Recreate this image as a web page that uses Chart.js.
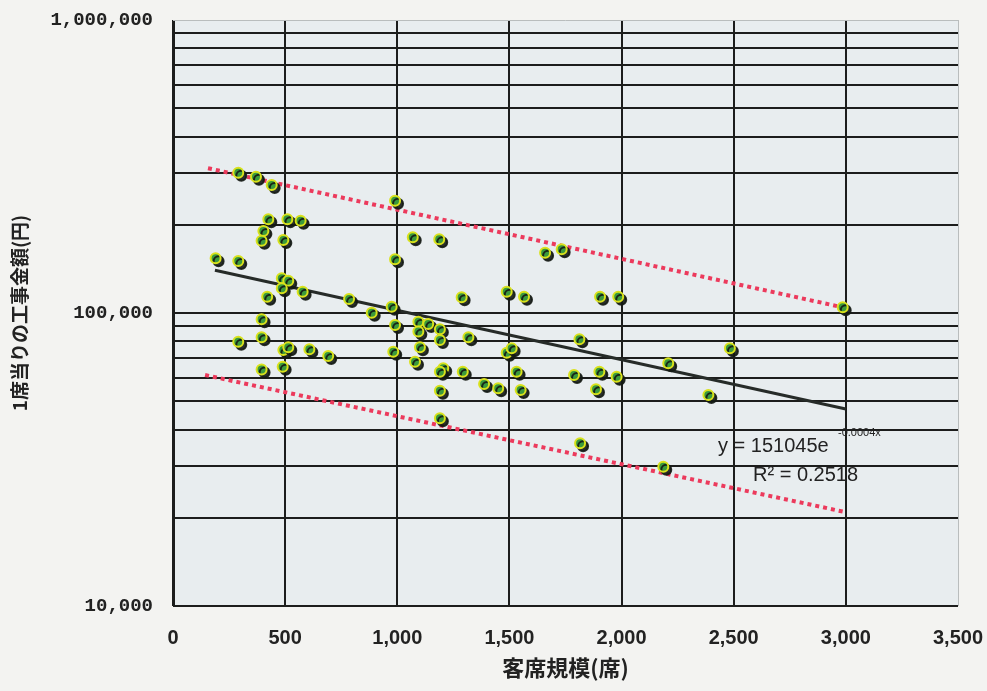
<!DOCTYPE html>
<html>
<head>
<meta charset="utf-8">
<script src="https://cdn.jsdelivr.net/npm/chart.js@4"></script>
<style>
  html, body { margin: 0; padding: 0; background: #f3f3f1; }
  #wrap { width: 987px; height: 691px; }
</style>
</head>
<body>
<div id="wrap"><canvas id="chart" width="987" height="691"></canvas></div>
<script>
// 客席規模(席) and 1席当りの工事金額(円)
const seats = [
  291, 370, 440, 425, 510, 569, 403, 395, 492, 190,
  291, 485, 514, 485, 578, 420, 395, 395, 291, 492,
  514, 608, 395, 489, 692, 785, 990, 1069, 1187, 990,
  1659, 1733, 1287, 1488, 1565, 1904, 1985, 975, 886, 990,
  1094, 1138, 1190, 1094, 1190, 1317, 1101, 982, 1488, 1510,
  1812, 1079, 1205, 1190, 1292, 1532, 1788, 1901, 1978, 1387,
  1450, 1190, 1550, 1886, 1190, 2208, 2986, 2483, 2387, 1815,
  2186
];
const costPerSeat = [
  301000, 292000, 273400, 208800, 208800, 206500, 190500, 176500, 177500, 153700,
  150500, 131300, 128900, 121400, 118200, 113700, 95200, 82600, 79800, 74800,
  76400, 75200, 64200, 65600, 71300, 111600, 241700, 181300, 178400, 152500,
  160600, 165000, 113100, 118200, 113700, 113700, 113700, 105100, 100200, 91000,
  93400, 91700, 88000, 86400, 80900, 82600, 76400, 73800, 73200, 75800,
  81300, 68200, 64760, 63050, 63050, 63050, 61430, 63050, 60620, 57240,
  55330, 54290, 54590, 54890, 43710, 67330, 104600, 75800, 52490, 35930,
  29880
];

// fitted line and the two dotted bands (end points)
const trendX = [187, 3000];
const trendY = [140000, 47000];
const upperX = [156, 3000];
const upperY = [312000, 104000];
const lowerX = [143, 3000];
const lowerY = [61400, 20900];

const xTicks = [0, 500, 1000, 1500, 2000, 2500, 3000, 3500];
const yGrid = [10000, 20000, 30000, 40000, 50000, 60000, 70000, 80000, 90000,
  100000, 200000, 300000, 400000, 500000, 600000, 700000, 800000, 900000, 1000000];
const yLabels = [10000, 100000, 1000000];

const toXY = (xs, ys) => xs.map((x, i) => ({ x: x, y: ys[i] }));
const fmt = v => v.toLocaleString("en-US");

const sans = "'Liberation Sans', Arial, sans-serif";
const cjk = "'Noto Sans CJK JP', 'Noto Sans CJK SC', sans-serif";

const paper = {
  id: "paper",
  beforeDraw(chart) {
    const { ctx, chartArea: a } = chart;
    ctx.save();
    ctx.fillStyle = "#f3f3f1";
    ctx.fillRect(0, 0, chart.width, chart.height);
    ctx.fillStyle = "#e8edef";
    ctx.fillRect(a.left, a.top, a.right - a.left, a.bottom - a.top);
    ctx.restore();
  },
};

const shadow = {
  id: "shadow",
  beforeDatasetDraw(chart, args) {
    if (args.index !== 0) return;
    const ctx = chart.ctx;
    ctx.save();
    ctx.shadowColor = "rgba(20, 25, 20, 0.9)";
    ctx.shadowOffsetX = 3;
    ctx.shadowOffsetY = 3;
    ctx.shadowBlur = 0;
  },
  afterDatasetDraw(chart, args) {
    if (args.index !== 0) return;
    chart.ctx.restore();
  },
};

const equation = {
  id: "equation",
  afterDraw(chart) {
    const ctx = chart.ctx;
    const a = chart.chartArea;
    const x0 = a.left + 545;
    ctx.save();
    ctx.fillStyle = "#222";
    ctx.textBaseline = "alphabetic";
    ctx.font = "20px " + sans;
    ctx.fillText("y = 151045e", x0, a.top + 432);
    ctx.font = "11px " + sans;
    ctx.fillText("-0.0004x", x0 + 120, a.top + 416);
    ctx.font = "20px " + sans;
    ctx.fillText("R² = 0.2518", x0 + 35, a.top + 461);
    ctx.restore();
  },
};

new Chart(document.getElementById("chart"), {
  type: "scatter",
  data: {
    datasets: [
      {
        label: "data",
        data: toXY(seats, costPerSeat),
        order: 0,
        pointStyle: "circle",
        pointRadius: 5,
        backgroundColor: "#3b9a3c",
        borderColor: "#d9e21c",
        borderWidth: 2,
      },
      {
        label: "trend",
        data: toXY(trendX, trendY),
        order: 1,
        showLine: true,
        pointRadius: 0,
        borderColor: "#262b28",
        borderWidth: 3,
      },
      {
        label: "upper",
        data: toXY(upperX, upperY),
        order: 2,
        showLine: true,
        pointRadius: 0,
        borderColor: "#ec3a5c",
        borderWidth: 4,
        borderDash: [4, 4],
      },
      {
        label: "lower",
        data: toXY(lowerX, lowerY),
        order: 2,
        showLine: true,
        pointRadius: 0,
        borderColor: "#ec3a5c",
        borderWidth: 4,
        borderDash: [4, 4],
      },
    ],
  },
  options: {
    responsive: false,
    animation: false,
    layout: { padding: { top: 20, right: 29, left: 0, bottom: 0 } },
    plugins: {
      legend: { display: false },
      tooltip: { enabled: false },
    },
    scales: {
      x: {
        type: "linear",
        min: 0,
        max: 3500,
        afterBuildTicks: s => { s.ticks = xTicks.map(v => ({ value: v })); },
        afterFit: s => {
          s.height = 85;
          s.paddingLeft = 0;
          s.paddingRight = 0;
        },
        border: { display: false },
        grid: {
          drawTicks: false,
          color: c => (c.tick && c.tick.value === 3500 ? "#b9bdbd" : "#1c1d1c"),
          lineWidth: c => (c.tick && c.tick.value === 0 ? 3 : c.tick && c.tick.value === 3500 ? 1 : 2),
        },
        ticks: {
          padding: 20,
          maxRotation: 0,
          color: "#222",
          font: { family: sans, size: 20, weight: "bold" },
          callback: v => fmt(v),
        },
        title: {
          display: true,
          text: "客席規模(席)",
          color: "#222",
          font: { family: cjk, size: 22, weight: "bold" },
          padding: { top: 0, bottom: 10 },
        },
      },
      y: {
        type: "logarithmic",
        min: 10000,
        max: 1000000,
        afterBuildTicks: s => { s.ticks = yGrid.map(v => ({ value: v })); },
        afterFit: s => {
          s.width = 173;
          s.paddingTop = 0;
          s.paddingBottom = 0;
        },
        border: { display: false },
        grid: {
          drawTicks: false,
          color: c => (c.tick && c.tick.value === 1000000 ? "#b9bdbd" : "#1c1d1c"),
          lineWidth: c => (c.tick && c.tick.value === 1000000 ? 1 : 2),
        },
        ticks: {
          padding: 20,
          autoSkip: false,
          color: "#222",
          font: { family: "'Liberation Mono', 'DejaVu Sans Mono', monospace", size: 19, weight: "bold" },
          callback: v => (yLabels.includes(v) ? fmt(v) : ""),
        },
        title: {
          display: true,
          text: "1席当りの工事金額(円)",
          color: "#222",
          font: { family: cjk, size: 19, weight: "bold" },
          padding: { top: 8, bottom: 0 },
        },
      },
    },
  },
  plugins: [paper, shadow, equation],
});
</script>
</body>
</html>
